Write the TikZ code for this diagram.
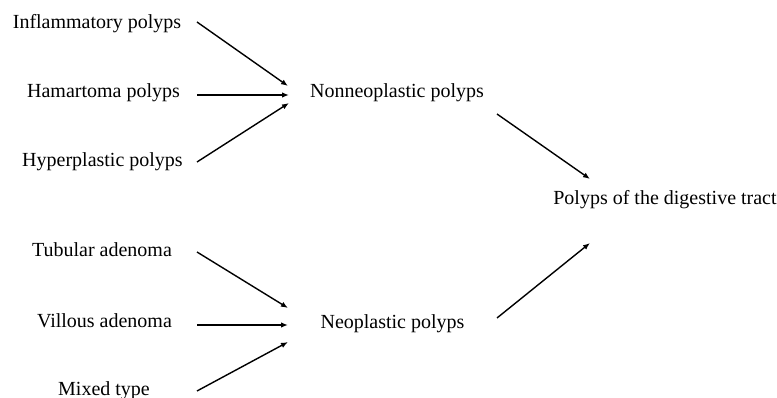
\documentclass[tikz,border=0pt]{standalone}
\usepackage{fontspec}
\setmainfont{Liberation Serif}
\usetikzlibrary{arrows.meta}
\begin{document}
\begin{tikzpicture}[x=1pt,y=-1pt,
  lbl/.style={inner sep=0pt,anchor=base,font=\fontsize{20}{24}\selectfont},
  arr/.style={line width=1.4pt,-{Latex[length=7pt,width=5.5pt]}}]
\useasboundingbox (0,0) rectangle (777,398);
\node[lbl] (inf) at (97,29) {Inflammatory polyps};
\node[lbl] (ham) at (103.5,98) {Hamartoma polyps};
\node[lbl] (hyp) at (102.5,167) {Hyperplastic polyps};
\node[lbl] (tub) at (102,257) {Tubular adenoma};
\node[lbl] (vil) at (104.5,327) {Villous adenoma};
\node[lbl] (mix) at (104,395) {Mixed type};
\node[lbl] (non) at (397,98) {Nonneoplastic polyps};
\node[lbl] (neo) at (392.5,328) {Neoplastic polyps};
\node[lbl] (pol) at (665,205) {Polyps of the digestive tract};
\draw[arr] ([shift={(100,-7)}]inf.base) -- ([shift={(-109,-12)}]non.base);
\draw[arr] ([shift={(93.5,-3)}]ham.base) -- ([shift={(-108,-3)}]non.base);
\draw[arr] ([shift={(94.5,-5)}]hyp.base) -- ([shift={(-108,5)}]non.base);
\draw[arr] ([shift={(95,-5)}]tub.base) -- ([shift={(-104.5,-20)}]neo.base);
\draw[arr] ([shift={(92.5,-2)}]vil.base) -- ([shift={(-104.5,-3)}]neo.base);
\draw[arr] ([shift={(93,-4)}]mix.base) -- ([shift={(-104.5,14)}]neo.base);
\draw[arr] ([shift={(100,16)}]non.base) -- ([shift={(-75,-26)}]pol.base);
\draw[arr] ([shift={(104.5,-10)}]neo.base) -- ([shift={(-75,38)}]pol.base);
\end{tikzpicture}
\end{document}
